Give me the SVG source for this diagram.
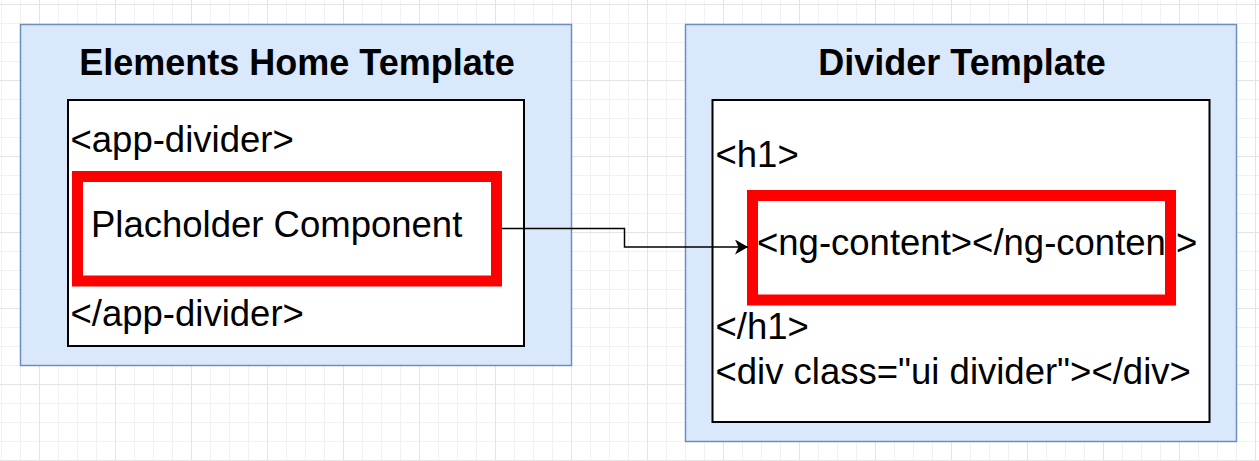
<svg xmlns="http://www.w3.org/2000/svg" width="1259" height="461" viewBox="0 0 1259 461">
  <defs>
    <pattern id="grid" patternUnits="userSpaceOnUse" x="39" y="4" width="76" height="76">
      <path d="M19.5,0 V76 M38.5,0 V76 M57.5,0 V76 M0,19.5 H76 M0,38.5 H76 M0,57.5 H76" stroke="#f1f1f1" stroke-width="1" fill="none"/>
      <path d="M0.5,0 V76 M0,0.5 H76" stroke="#e4e4e4" stroke-width="1" fill="none"/>
    </pattern>
    <marker id="arrow" markerUnits="userSpaceOnUse" markerWidth="14" markerHeight="16" refX="13" refY="7.5" orient="auto" viewBox="0 0 14 16">
      <path d="M0,0 L13,7.5 L0,15 L3.5,7.5 Z" fill="#000000"/>
    </marker>
    <style>
      .outer { fill: #dae8fc; stroke: #6c8ebf; stroke-width: 1.5; }
      .inner { fill: #ffffff; stroke: #000000; stroke-width: 2; }
      .hl { fill: none; stroke: #ff0000; stroke-width: 11; }
      .title { font-family: "Liberation Sans", Arial, sans-serif; font-size: 36px; font-weight: bold; fill: #000000; text-anchor: middle; }
      .code { font-family: "Liberation Sans", Arial, sans-serif; font-size: 36.5px; fill: #000000; }
      .edge { fill: none; stroke: #000000; stroke-width: 1.5; }
    </style>
  </defs>

  <rect x="0" y="0" width="1259" height="461" fill="#ffffff"/>
  <rect x="0" y="0" width="1259" height="461" fill="url(#grid)"/>

  <g id="elements-home-template">
    <rect class="outer" x="20.5" y="24.5" width="551" height="341"/>
    <text class="title" x="297" y="75">Elements Home Template</text>
    <rect class="inner" x="68" y="100" width="456" height="246"/>
    <text class="code" x="70.5" y="151.5">&lt;app-divider&gt;</text>
    <text class="code" x="70.5" y="326">&lt;/app-divider&gt;</text>
  </g>

  <g id="placeholder-component">
    <text class="code" x="91" y="236.5">Placholder Component</text>
    <rect class="hl" x="77.5" y="176.5" width="419" height="104.5"/>
  </g>

  <g id="divider-template">
    <rect class="outer" x="685.5" y="24.5" width="551" height="417"/>
    <text class="title" x="962" y="75">Divider Template</text>
    <rect class="inner" x="712.5" y="100" width="497" height="322"/>
    <text class="code" x="715.5" y="166.5">&lt;h1&gt;</text>
    <text class="code" x="715.5" y="339">&lt;/h1&gt;</text>
    <text class="code" x="715.5" y="384">&lt;div class="ui divider"&gt;&lt;/div&gt;</text>
  </g>

  <g id="ng-content">
    <text class="code" x="757" y="254.5">&lt;ng-content&gt;&lt;/ng-content&gt;</text>
    <rect class="hl" x="752.5" y="195.5" width="418" height="104.5"/>
  </g>

  <g id="connectors">
    <path class="edge" d="M502,228.5 H624.5 V247 H748" marker-end="url(#arrow)"/>
  </g>
</svg>
